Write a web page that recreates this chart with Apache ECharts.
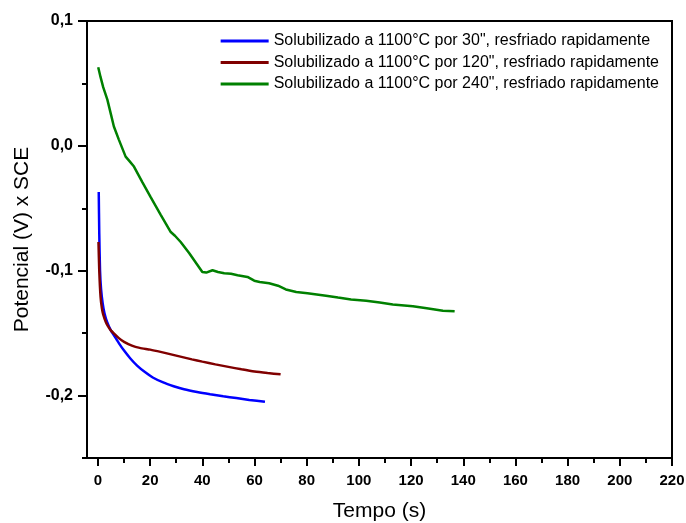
<!DOCTYPE html>
<html>
<head>
<meta charset="utf-8">
<script src="https://cdn.jsdelivr.net/npm/echarts@6/dist/echarts.min.js"></script>
<style>html,body{margin:0;padding:0;background:#fff}#c{width:686px;height:523px}</style>
</head>
<body>
<div id="c"></div>
<script>
const seriesNames = [
  'Solubilizado a 1100°C por 30", resfriado rapidamente',
  'Solubilizado a 1100°C por 120", resfriado rapidamente',
  'Solubilizado a 1100°C por 240", resfriado rapidamente'
];
const xMajorTicks = [0,20,40,60,80,100,120,140,160,180,200,220];
const xMinorTicks = [10,30,50,70,90,110,130,150,170,190,210];
const yMajorTicks = [-0.2,-0.1,0,0.1];
const yMinorTicks = [-0.25,-0.15,-0.05,0.05];

const blue30 = [[0.3,-0.037],[0.5,-0.07],[0.8,-0.1],[1.2,-0.115],[1.8,-0.126],[2.5,-0.134],[3.5,-0.141],[5,-0.148],[6.5,-0.153],[8,-0.158],[10,-0.164],[12.5,-0.1705],[15,-0.176],[18,-0.1812],[21,-0.1855],[25,-0.1895],[29,-0.1925],[33,-0.195],[38,-0.1972],[43,-0.199],[48,-0.2006],[53,-0.202],[58,-0.2035],[64,-0.205]];
const red120 = [[0.2,-0.077],[0.5,-0.1],[1,-0.121],[1.5,-0.13],[2,-0.135],[3,-0.141],[4,-0.145],[5,-0.148],[6,-0.15],[8,-0.154],[10,-0.157],[13,-0.16],[16,-0.1618],[20,-0.1632],[24,-0.165],[28,-0.167],[32,-0.169],[36,-0.171],[40,-0.1728],[45,-0.175],[50,-0.177],[55,-0.179],[60,-0.1808],[65,-0.182],[70,-0.183]];
const green240 = [[0.1,0.063],[1,0.055],[2,0.047],[3.6,0.037],[5,0.025],[6.1,0.0155],[8,0.005],[10.6,-0.0086],[12,-0.012],[13.8,-0.0166],[17,-0.029],[20.2,-0.041],[24,-0.055],[27.9,-0.069],[29.5,-0.072],[31.7,-0.077],[35,-0.086],[38,-0.095],[40,-0.101],[41.5,-0.1015],[43.9,-0.0996],[46,-0.101],[48.4,-0.102],[51,-0.1025],[53.5,-0.1036],[57.3,-0.105],[59.9,-0.108],[62,-0.109],[65.6,-0.11],[69,-0.112],[72,-0.115],[76,-0.117],[80.3,-0.118],[87.4,-0.12],[92,-0.1215],[97,-0.123],[102.8,-0.124],[108,-0.1255],[113,-0.127],[120.7,-0.1285],[126,-0.13],[132.2,-0.132],[136.7,-0.1325]];

const colors = ['#0000ff','#800000','#008000'];
const FONT = '"Liberation Sans", Arial, sans-serif';
const X_MIN = -4.2, X_MAX = 220, Y_MIN = -0.25, Y_MAX = 0.1;

const chart = echarts.init(document.getElementById('c'));
const lineStyleAxis = {show:true, onZero:false, lineStyle:{color:'#000', width:2}};
chart.setOption({
  animation:false,
  backgroundColor:'#fff',
  grid:{left:87, right:14, top:21, bottom:65, show:true, borderColor:'#000', borderWidth:2, containLabel:false, outerBoundsMode:'none'},
  legend:{
    orient:'vertical', right:22, top:28, itemWidth:48, itemHeight:3, itemGap:5.5, icon:'rect',
    textStyle:{fontFamily:FONT, fontSize:16, color:'#000'},
    data:seriesNames
  },
  xAxis:[{
    type:'value', min:X_MIN, max:X_MAX,
    name:'Tempo (s)', nameLocation:'middle', nameGap:43,
    nameTextStyle:{fontFamily:FONT, fontSize:21, color:'#000'},
    axisLine:lineStyleAxis, splitLine:{show:false},
    axisTick:{show:true, customValues:xMajorTicks, length:8, inside:false, lineStyle:{color:'#000', width:2}},
    axisLabel:{customValues:xMajorTicks, margin:15, fontFamily:FONT, fontSize:15, fontWeight:'bold', color:'#000', showMinLabel:true, showMaxLabel:true}
  },{
    type:'value', min:X_MIN, max:X_MAX, position:'bottom',
    axisLine:lineStyleAxis, splitLine:{show:false},
    axisTick:{show:true, customValues:xMinorTicks, length:5, inside:false, lineStyle:{color:'#000', width:2}},
    axisLabel:{show:false}
  }],
  yAxis:[{
    type:'value', min:Y_MIN, max:Y_MAX,
    name:'Potencial (V) x SCE', nameLocation:'middle', nameGap:54,
    nameTextStyle:{fontFamily:FONT, fontSize:21, color:'#000'},
    axisLine:lineStyleAxis, splitLine:{show:false},
    axisTick:{show:true, customValues:yMajorTicks, length:9, inside:false, lineStyle:{color:'#000', width:2}},
    axisLabel:{customValues:yMajorTicks, margin:14, fontFamily:FONT, fontSize:16, fontWeight:'bold', color:'#000',
      formatter:v=>v.toFixed(1).replace('.',',')}
  },{
    type:'value', min:Y_MIN, max:Y_MAX, position:'left',
    axisLine:lineStyleAxis, splitLine:{show:false},
    axisTick:{show:true, customValues:yMinorTicks, length:5, inside:false, lineStyle:{color:'#000', width:2}},
    axisLabel:{show:false}
  }],
  series:[blue30, red120, green240].map((d,i)=>({
    name:seriesNames[i], type:'line', data:d, showSymbol:false, symbol:'none', smooth:i<2?0.2:false,
    color:colors[i], lineStyle:{color:colors[i], width:2.5}, xAxisIndex:0, yAxisIndex:0
  }))
});
</script>
</body>
</html>
